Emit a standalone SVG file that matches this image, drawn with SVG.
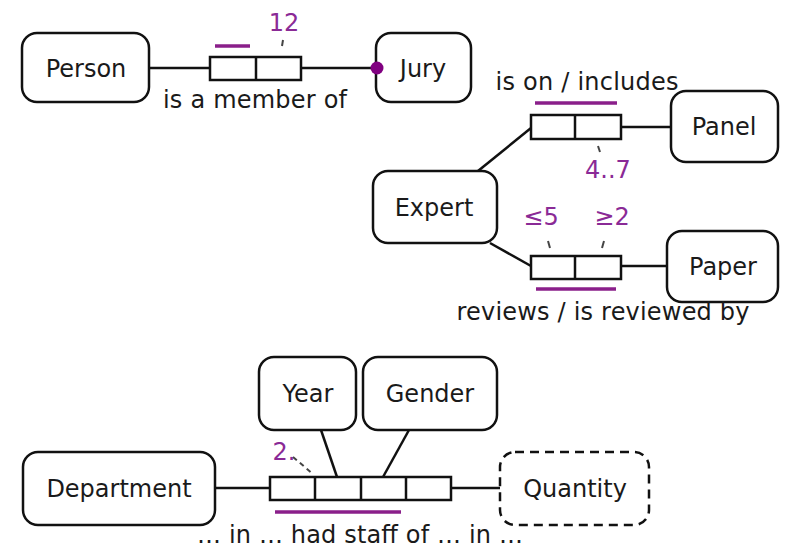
<svg xmlns="http://www.w3.org/2000/svg" width="787" height="551" viewBox="0 0 787 551">
<style>
.node{fill:#fff;stroke:#111;stroke-width:2.5}
.dash{stroke-dasharray:9 6}
.role{fill:#fff;stroke:#111;stroke-width:2.5}
.t{font-family:"DejaVu Sans",sans-serif;font-size:24px;fill:#1a1a1a;text-anchor:middle}
.p{font-family:"DejaVu Sans",sans-serif;font-size:24px;fill:#8a2a96;text-anchor:middle}
.c{stroke:#111;stroke-width:2.5;fill:none}
.u{stroke:#8a1f8a;stroke-width:3.5;fill:none}
.k{stroke:#444;stroke-width:2;fill:none}
</style>
<rect width="787" height="551" fill="#fff"/>
<g id="connectors">
<line class="c" x1="150" y1="68" x2="210" y2="68"/>
<line class="c" x1="301" y1="68" x2="377" y2="68"/>
<line class="c" x1="478" y1="171" x2="531" y2="128"/>
<line class="c" x1="621" y1="127" x2="671" y2="127"/>
<line class="c" x1="490" y1="243" x2="531" y2="266"/>
<line class="c" x1="621" y1="266" x2="667" y2="266"/>
<line class="c" x1="215" y1="488" x2="270" y2="488"/>
<line class="c" x1="451" y1="488" x2="500" y2="488"/>
<line class="c" x1="321" y1="430" x2="337" y2="477"/>
<line class="c" x1="409" y1="430" x2="383" y2="477"/>
</g>
<g id="person"><rect class="node" x="22" y="33" width="127" height="69" rx="15"/><text class="t" x="86" y="77">Person</text></g>
<g id="jury"><rect class="node" x="376" y="33" width="95" height="69" rx="15"/><text class="t" x="423" y="77">Jury</text></g>
<g id="panel"><rect class="node" x="671" y="91" width="107" height="71" rx="15"/><text class="t" x="724" y="135">Panel</text></g>
<g id="expert"><rect class="node" x="373" y="171" width="124" height="72" rx="15"/><text class="t" x="434" y="216">Expert</text></g>
<g id="paper"><rect class="node" x="667" y="231" width="111" height="71" rx="15"/><text class="t" x="723" y="275">Paper</text></g>
<g id="year"><rect class="node" x="259" y="357" width="97" height="73" rx="15"/><text class="t" x="308" y="402">Year</text></g>
<g id="gender"><rect class="node" x="363" y="357" width="134" height="73" rx="15"/><text class="t" x="430" y="402">Gender</text></g>
<g id="department"><rect class="node" x="23" y="452" width="192" height="73" rx="15"/><text class="t" x="119" y="497">Department</text></g>
<g id="quantity"><rect class="node dash" x="500" y="452" width="149" height="73" rx="15"/><text class="t" x="575" y="497">Quantity</text></g>
<g id="fact-member">
<rect class="role" x="210" y="57" width="91" height="23"/>
<line class="c" x1="256" y1="57" x2="256" y2="80"/>
<line class="u" x1="215" y1="46" x2="250" y2="46"/>
<text class="p" x="284" y="31">12</text>
<line class="k" x1="283" y1="40" x2="282" y2="46"/>
<text class="t" x="255" y="108" textLength="184" lengthAdjust="spacing">is a member of</text>
<circle cx="377" cy="68" r="6.5" fill="#800080"/>
</g>
<g id="fact-on">
<rect class="role" x="531" y="115" width="90" height="24"/>
<line class="c" x1="575" y1="115" x2="575" y2="139"/>
<line class="u" x1="535" y1="103" x2="617" y2="103"/>
<text class="t" x="587" y="90" textLength="183" lengthAdjust="spacing">is on / includes</text>
<text class="p" x="608" y="178">4..7</text>
<line class="k" x1="598" y1="146" x2="600" y2="152"/>
</g>
<g id="fact-reviews">
<rect class="role" x="531" y="256" width="90" height="23"/>
<line class="c" x1="575" y1="256" x2="575" y2="279"/>
<line class="u" x1="536" y1="289" x2="616" y2="289"/>
<text class="p" x="541" y="225">≤5</text>
<text class="p" x="612" y="225">≥2</text>
<line class="k" x1="548" y1="241" x2="550" y2="248"/>
<line class="k" x1="604" y1="241" x2="602" y2="248"/>
<text class="t" x="603" y="320" textLength="293" lengthAdjust="spacing">reviews / is reviewed by</text>
</g>
<g id="fact-staff">
<rect class="role" x="270" y="477" width="181" height="23"/>
<line class="c" x1="315" y1="477" x2="315" y2="500"/>
<line class="c" x1="361" y1="477" x2="361" y2="500"/>
<line class="c" x1="406" y1="477" x2="406" y2="500"/>
<line class="u" x1="275" y1="512" x2="401" y2="512"/>
<text class="p" x="284" y="460">2.</text>
<line class="k" x1="293" y1="457" x2="313" y2="474" stroke-dasharray="5 4"/>
<text class="t" x="360" y="543" textLength="326" lengthAdjust="spacing">… in … had staff of … in …</text>
</g>
</svg>
